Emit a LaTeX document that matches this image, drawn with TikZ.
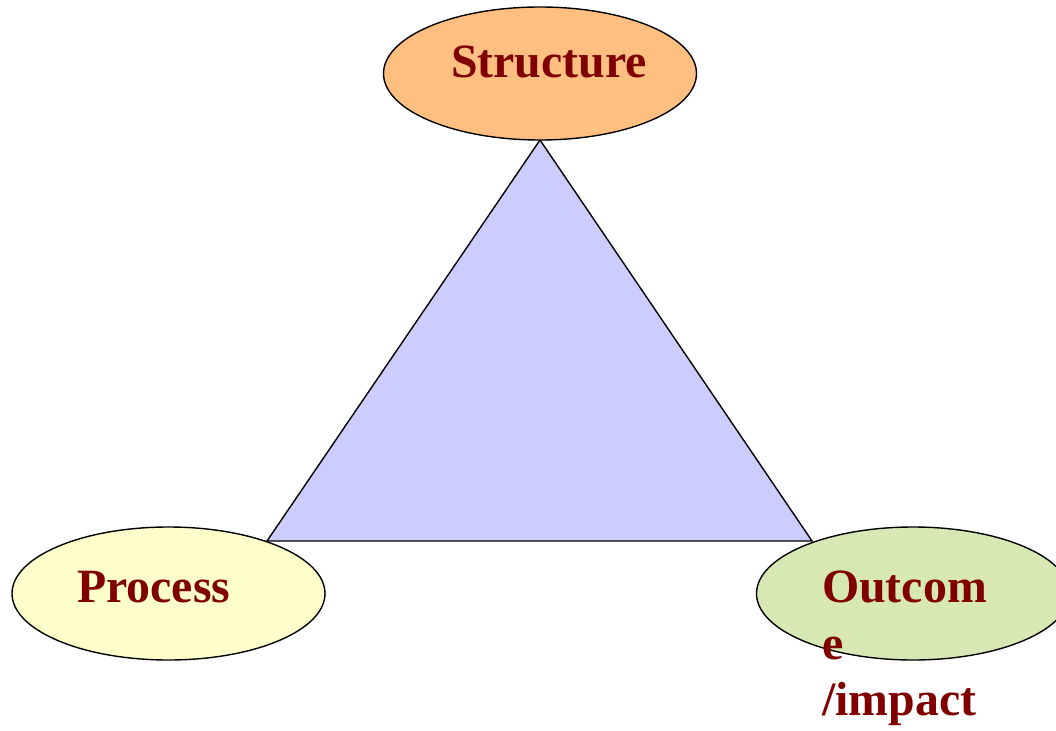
\documentclass[tikz,border=0pt]{standalone}
\usepackage{fontspec}
\setmainfont{Liberation Serif}
\usetikzlibrary{shapes.geometric}
\definecolor{structfill}{HTML}{FFBF80}
\definecolor{procfill}{HTML}{FFFFCC}
\definecolor{outfill}{HTML}{D7E8B4}
\definecolor{trifill}{HTML}{CCCCFF}
\definecolor{labelred}{HTML}{800000}
\tikzset{
  oval/.style={ellipse, draw=black, line width=1.4pt, inner sep=0pt, minimum width=313pt, minimum height=133pt},
  lbl/.style={anchor=base west, inner sep=0pt, text=labelred, font=\fontsize{47.8}{56}\selectfont\bfseries}
}
\begin{document}
\begin{tikzpicture}[x=1pt,y=-1pt]
\useasboundingbox (0,0) rectangle (1056,730);
\clip (0,0) rectangle (1056,730);
\coordinate (apex) at (540,140);
\coordinate (bl) at (267,541);
\coordinate (br) at (812,541);
\draw[fill=trifill, line width=1.4pt, line join=miter] (apex) -- (bl) -- (br) -- cycle;
\node[oval, fill=structfill] (structure) at (540,73.5) {};
\node[oval, fill=procfill] (process) at (168.5,593.5) {};
\node[oval, fill=outfill] (outcome) at (913,593.5) {};
\node[lbl] (tstructure) at (451,78) {Structure};
\node[lbl] (tprocess) at (77,602) {Process};
\node[lbl] (toutcome1) at (822,602) {Outcom};
\node[lbl] (toutcome2) at (822,659) {e};
\node[lbl] (toutcome3) at (822,715) {/impact};
\end{tikzpicture}
\end{document}
